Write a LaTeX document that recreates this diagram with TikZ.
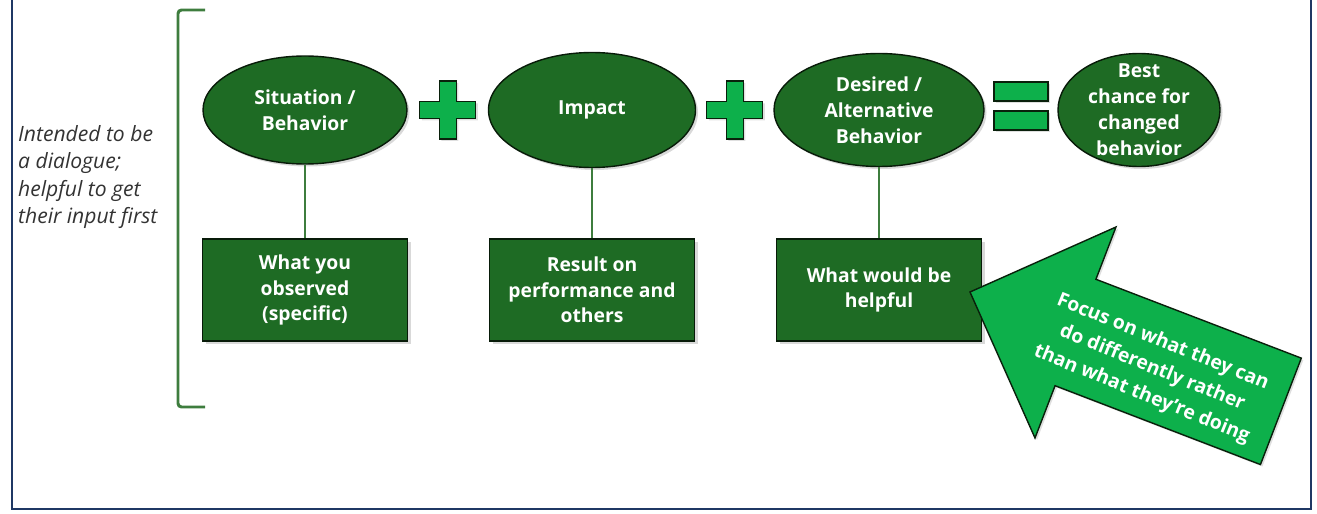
\documentclass[tikz,border=0pt]{standalone}
\usepackage{fontspec}
\setmainfont{Open Sans}
\usetikzlibrary{shapes.geometric,calc,shadows}
\definecolor{darkgrn}{HTML}{1E6B24}
\definecolor{brightgrn}{HTML}{0DB04B}
\definecolor{linegrn}{HTML}{3E7D3E}
\definecolor{framebl}{HTML}{1F3864}
\tikzset{
  oval/.style={draw=black!75!darkgrn, fill=darkgrn, ellipse, line width=0.8pt,
    drop shadow={shadow xshift=0.05cm, shadow yshift=-0.05cm, opacity=0.3}},
  ovaltext/.style={text=white, font=\bfseries\fontsize{11}{14.8}\selectfont, align=center},
  box/.style={draw=black!75!darkgrn, fill=darkgrn, rectangle, line width=0.8pt,
    minimum width=4.1cm, minimum height=2.04cm, text=white, align=center,
    font=\bfseries\fontsize{11}{14.6}\selectfont,
    drop shadow={shadow xshift=0.06cm, shadow yshift=-0.06cm, opacity=0.3}},
  sign/.style={draw=black!70!darkgrn, fill=brightgrn, line width=0.8pt,
    drop shadow={shadow xshift=0.04cm, shadow yshift=-0.04cm, opacity=0.25}},
}
\begin{document}
\begin{tikzpicture}[node distance=5.74cm]
        \useasboundingbox (0,0) rectangle (26.34,-10.28);
        \draw[framebl, line width=0.9pt] (0.24,0.5) rectangle (26.22,-10.18);

        % bracket and note
        \draw[linegrn, line width=1.7pt, rounded corners=2pt] (4.1,-0.2) -- (3.56,-0.2) -- (3.56,-8.14) -- (4.1,-8.14);
        \node[anchor=west, align=left, text=black!80, font=\itshape\fontsize{12}{15.4}\selectfont] (note) at (0.24,-3.54) {Intended to be\\a dialogue;\\helpful to get\\their input first};

        \node[oval, minimum width=4.08cm, minimum height=2.16cm] (sit) at (6.1,-2.2) {};
        \node[oval, right of=sit, minimum width=4.14cm, minimum height=2.3cm] (imp) {};
        \node[oval, right of=imp, minimum width=4.2cm, minimum height=2.26cm] (des) {};
        \node[oval, right of=des, xshift=-0.54cm, minimum width=3.24cm, minimum height=2.26cm] (best) {};

        \node[ovaltext] (sittxt) at (sit) {Situation /\\Behavior};
        \node[ovaltext] (imptxt) at (imp) {Impact};
        \node[ovaltext] (destxt) at (des) {Desired /\\Alternative\\Behavior};
        \node[ovaltext] (besttxt) at (best) {Best\\chance for\\changed\\behavior};

        \node[box, below of=sit, node distance=3.6cm] (obs) {What you\\observed\\(specific)};
        \node[box, below of=imp, node distance=3.6cm] (res) {Result on\\performance and\\others};
        \node[box, below of=des, node distance=3.6cm] (help) {What would be\\helpful};

        \draw[linegrn, line width=1pt] (sit) -- (obs);
        \draw[linegrn, line width=1pt] (imp) -- (res);
        \draw[linegrn, line width=1pt] (des) -- (help);

        % plus and equals signs
        \coordinate (p1) at ($(sit.east)!0.5!(imp.west)$);
        \coordinate (p2) at ($(imp.east)!0.5!(des.west)$);
        \coordinate (eq) at ($(des.east)!0.5!(best.west)$);
        \foreach \p in {p1,p2}
          \draw[sign, shift={(\p)}] (-0.17,0.58) -- (0.17,0.58) -- (0.17,0.17) -- (0.56,0.17) -- (0.56,-0.17) -- (0.17,-0.17)
            -- (0.17,-0.58) -- (-0.17,-0.58) -- (-0.17,-0.17) -- (-0.56,-0.17) -- (-0.56,0.17) -- (-0.17,0.17) -- cycle;
        \draw[sign, shift={(eq)}] (-0.54,0.56) rectangle (0.54,0.18);
        \draw[sign, shift={(eq)}] (-0.54,-0.02) rectangle (0.54,-0.4);

        % big arrow
        \coordinate (tip) at (19.4,-5.84);
        \begin{scope}[shift={(tip)}, rotate=-21]
          \draw[sign] (0,0) -- (2.26,2.26) -- (2.26,1.14) -- (6.66,1.14) -- (6.66,-1.14) -- (2.26,-1.14) -- (2.26,-2.26) -- cycle;
          \node[rotate=-22, text=white, align=center, font=\bfseries\fontsize{11}{16}\selectfont] (focus) at (3.95,-0.12) {Focus on what they can\\do differently rather\\than what they’re doing};
        \end{scope}
    \end{tikzpicture}
\end{document}
